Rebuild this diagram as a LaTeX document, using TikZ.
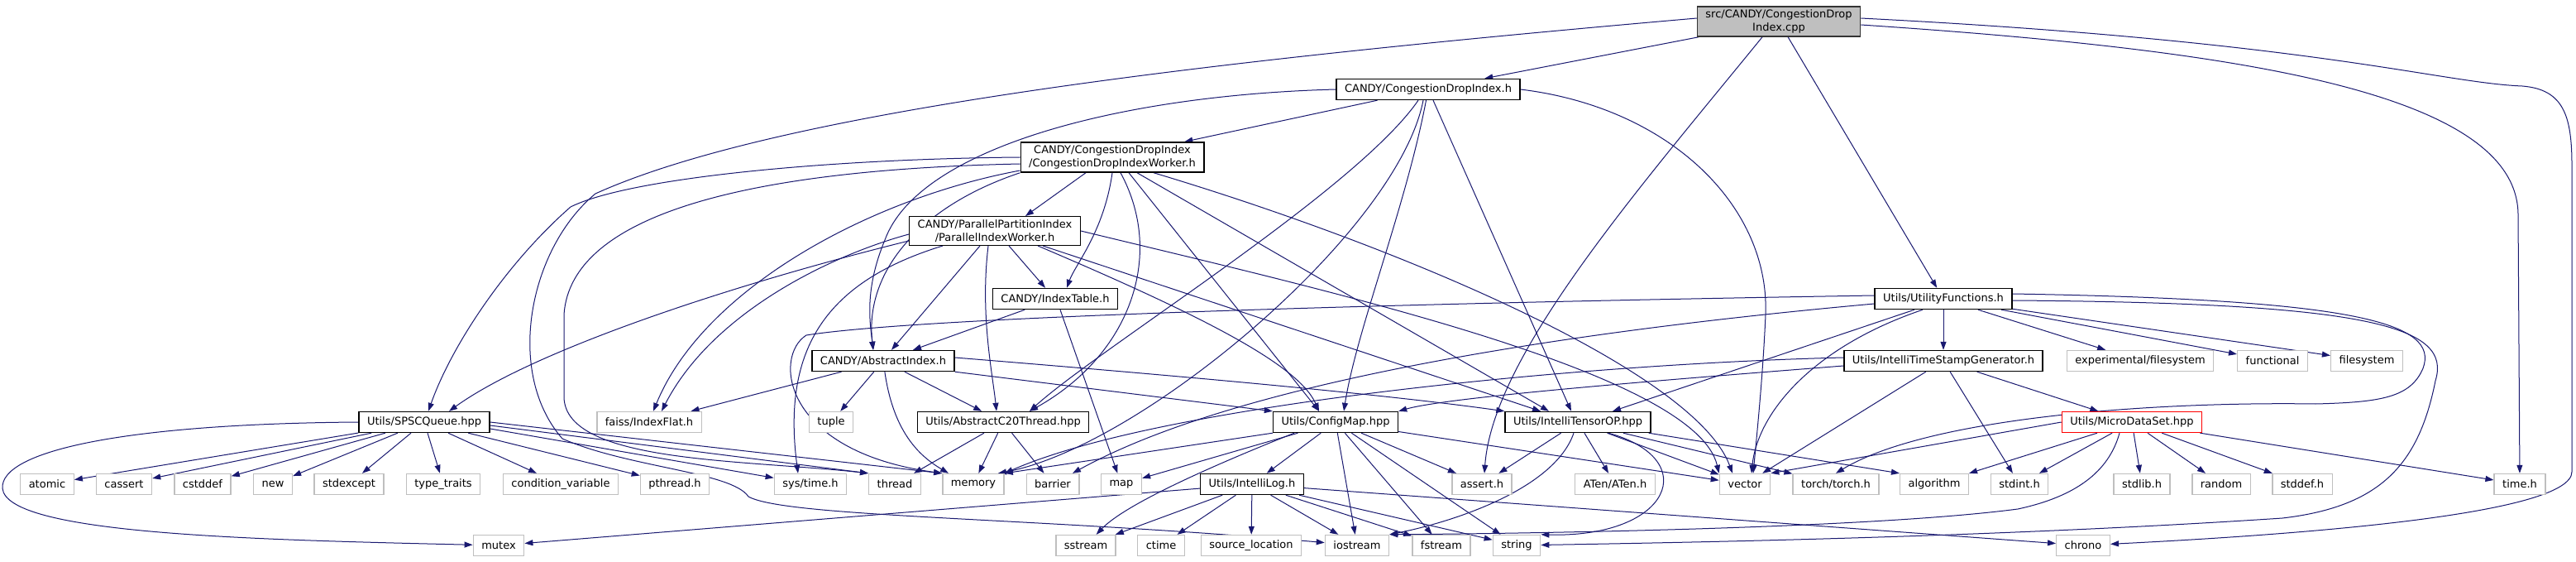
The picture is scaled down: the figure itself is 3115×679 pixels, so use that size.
\documentclass[tikz,border=0pt]{standalone}
\usepackage{fontspec}
\setmainfont{DejaVu Sans}
\usetikzlibrary{arrows.meta}
\definecolor{edgeblue}{HTML}{191970}
\definecolor{sysgray}{HTML}{BFBFBF}
\pgfdeclarelayer{edges}
\pgfsetlayers{edges,main}

\begin{document}
\begin{tikzpicture}[x=1pt,y=-1pt,
  every node/.style={font=\fontsize{13}{15.5}\selectfont,inner xsep=10pt,inner ysep=4pt,minimum height=25pt,align=center},
  hdr/.style={draw=black,line width=1.4pt,fill=white},
  sys/.style={draw=sysgray,line width=1.4pt,fill=white},
  root/.style={draw=black!80,line width=1.4pt,fill=sysgray},
  flagged/.style={draw=red,line width=1.4pt,fill=white},
  dep/.style={draw=edgeblue,line width=1pt,-{Triangle[length=10pt,width=7pt]}}]

\begin{pgfonlayer}{edges}
\fill[white] (0,0) rectangle (3115,679);
\end{pgfonlayer}
\useasboundingbox (0,0) rectangle (3115,679);

\node[root] (src) at (2151,26) {src/CANDY/CongestionDrop\\Index.cpp};

\node[hdr] (cdi) at (1727,108) {CANDY/CongestionDropIndex.h};
\node[hdr] (cdiw) at (1345,190) {CANDY/CongestionDropIndex\\/CongestionDropIndexWorker.h};
\node[hdr] (piw) at (1203,279) {CANDY/ParallelPartitionIndex\\/ParallelIndexWorker.h};

\node[hdr] (itab) at (1276,361) {CANDY/IndexTable.h};
\node[hdr] (util) at (2350,361) {Utils/UtilityFunctions.h};

\node[hdr] (absidx) at (1068,436) {CANDY/AbstractIndex.h};
\node[hdr] (itsg) at (2350,436) {Utils/IntelliTimeStampGenerator.h};
\node[sys] (expfs) at (2588,436) {experimental/filesystem};
\node[sys] (functional) at (2748,436) {functional};
\node[sys] (filesystem) at (2862,436) {filesystem};

\node[hdr] (spsc) at (513,510) {Utils/SPSCQueue.hpp};
\node[sys] (faiss) at (785,510) {faiss/IndexFlat.h};
\node[sys] (tuple) at (1005,510) {tuple};
\node[hdr] (ac20) at (1213,510) {Utils/AbstractC20Thread.hpp};
\node[hdr] (cfgmap) at (1615,510) {Utils/ConfigMap.hpp};
\node[hdr] (tensorop) at (1908,510) {Utils/IntelliTensorOP.hpp};
\node[flagged] (microds) at (2578,510) {Utils/MicroDataSet.hpp};

\node[sys] (atomic) at (57,585) {atomic};
\node[sys] (cassert) at (150,585) {cassert};
\node[sys] (cstddef) at (245,585) {cstddef};
\node[sys] (new) at (330,585) {new};
\node[sys] (stdexcept) at (422,585) {stdexcept};
\node[sys] (typetraits) at (536,585) {type\_traits};
\node[sys] (condvar) at (678,585) {condition\_variable};
\node[sys] (pthread) at (816,585) {pthread.h};
\node[sys] (systime) at (980,585) {sys/time.h};
\node[sys] (thread) at (1082,585) {thread};
\node[sys] (memory) at (1177,585) {memory};
\node[sys] (barrier) at (1273,585) {barrier};
\node[sys] (map) at (1356,585) {map};
\node[hdr] (ilog) at (1514,585) {Utils/IntelliLog.h};
\node[sys] (assert) at (1792,585) {assert.h};
\node[sys] (aten) at (1953,585) {ATen/ATen.h};
\node[sys] (vector) at (2110,585) {vector};
\node[sys] (torch) at (2220,585) {torch/torch.h};
\node[sys] (algorithm) at (2339,585) {algorithm};
\node[sys] (stdint) at (2442,585) {stdint.h};
\node[sys] (stdlib) at (2590,585) {stdlib.h};
\node[sys] (random) at (2686,585) {random};
\node[sys] (stddef) at (2784,585) {stddef.h};
\node[sys] (timeh) at (3047,585) {time.h};

\node[sys] (mutex) at (603,659) {mutex};
\node[sys] (sstream) at (1313,659) {sstream};
\node[sys] (ctime) at (1404,659) {ctime};
\node[sys] (srcloc) at (1513,659) {source\_location};
\node[sys] (iostream) at (1641,659) {iostream};
\node[sys] (fstream) at (1743,659) {fstream};
\node[sys] (string) at (1834,659) {string};
\node[sys] (chrono) at (2519,659) {chrono};

\begin{pgfonlayer}{edges}
\draw[dep] (src) -- (cdi);
\draw[dep] (src) -- (util);
\draw[dep] ([xshift=-20]src.south) .. controls (1980,230) and (1805,430) .. ([xshift=3]assert.north);
\draw[dep] ([yshift=-4]src.east) .. controls (2700,60) and (3045,110) .. (3045,260) -- (timeh);
\draw[dep] ([yshift=4]src.east) .. controls (2800,50) and (2950,100) .. (3050,104) .. controls (3100,108) and (3110,140) .. (3110,200) -- (3110,570) .. controls (3110,620) and (2800,645) .. (chrono);
\draw[dep] ([yshift=4]src.west) .. controls (1500,70) and (950,130) .. (720,234) .. controls (640,300) and (610,450) .. (680,530) .. controls (760,565) and (885,570) .. (905,600) .. controls (950,625) and (1250,625) .. (iostream);

\draw[dep] (cdi) -- (cdiw);
\draw[dep] (cdi.west) .. controls (1350,115) and (1110,180) .. (1070,290) .. controls (1045,350) and (1052,390) .. ([xshift=-12]absidx.north);
\draw[dep] ([xshift=-12]cdi.south) .. controls (1640,230) and (1330,420) .. ([xshift=32]ac20.north);
\draw[dep] ([xshift=-6]cdi.south) .. controls (1690,280) and (1380,540) .. ([xshift=30]memory.north);
\draw[dep] (cdi) .. controls (1700,250) and (1640,400) .. ([xshift=10]cfgmap.north);
\draw[dep] ([xshift=6]cdi.south) -- ([xshift=-8]tensorop.north);
\draw[dep] (cdi.east) .. controls (2020,130) and (2140,250) .. (2135,380) .. controls (2132,450) and (2125,520) .. ([xshift=10]vector.north);

\draw[dep] (cdiw.west) .. controls (1000,192) and (760,215) .. (690,250) .. controls (610,320) and (545,420) .. ([xshift=5]spsc.north);
\draw[dep] ([yshift=-8]cdiw.west) .. controls (900,205) and (690,260) .. (682,380) -- (682,480) .. controls (684,560) and (900,555) .. (thread.north west);
\draw[dep] ([yshift=-16]cdiw.west) .. controls (1050,240) and (850,350) .. ([xshift=5]faiss.north);
\draw[dep] (cdiw.south west) .. controls (1110,250) and (1045,330) .. ([xshift=-12]absidx.north);
\draw[dep] ([xshift=-32]cdiw.south) -- ([xshift=37]piw.north);
\draw[dep] (cdiw.south) .. controls (1335,280) and (1300,320) .. ([xshift=14]itab.north);
\draw[dep] ([xshift=10]cdiw.south) .. controls (1410,310) and (1365,430) .. ([xshift=32]ac20.north);
\draw[dep] ([xshift=20]cdiw.south) -- ([xshift=-20]cfgmap.north);
\draw[dep] ([xshift=30]cdiw.south) -- ([xshift=-35]tensorop.north);
\draw[dep] ([xshift=50]cdiw.south) .. controls (1700,300) and (2050,450) .. ([xshift=-15]vector.north);

\draw[dep] ([yshift=-4]piw.west) .. controls (1000,310) and (860,380) .. ([xshift=15]faiss.north);
\draw[dep] ([yshift=-12]piw.west) .. controls (900,340) and (650,420) .. ([xshift=30]spsc.north);
\draw[dep] ([xshift=-63]piw.south) .. controls (1000,340) and (945,420) .. ([xshift=-15]systime.north);
\draw[dep] ([xshift=-18]piw.south) -- ([xshift=10]absidx.north);
\draw[dep] ([xshift=-8]piw.south) .. controls (1185,380) and (1200,450) .. ([xshift=-8]ac20.north);
\draw[dep] ([xshift=17]piw.south) -- ([xshift=-12]itab.north);
\draw[dep] ([xshift=52]piw.south) .. controls (1450,380) and (1570,440) .. ([xshift=-20]cfgmap.north);
\draw[dep] ([xshift=58]piw.south) -- ([xshift=-45]tensorop.north);
\draw[dep] (piw.east) .. controls (1600,350) and (2050,450) .. (vector.north west);

\draw[dep] (itab) -- ([xshift=36]absidx.north);
\draw[dep] ([xshift=6]itab.south) -- (map);

\draw[dep] (absidx) -- (faiss);
\draw[dep] (absidx) -- (tuple);
\draw[dep] (absidx) .. controls (1080,520) and (1110,550) .. ([xshift=-30]memory.north);
\draw[dep] (absidx) -- (ac20);
\draw[dep] (absidx.south east) -- (cfgmap.north west);
\draw[dep] ([yshift=4]absidx.east) .. controls (1500,460) and (1700,480) .. (tensorop.north west);

\draw[dep] (ac20) -- (thread);
\draw[dep] (ac20) -- (memory);
\draw[dep] (ac20) -- (barrier);

\draw[dep] (spsc.west) .. controls (150,512) and (0,545) .. (3,590) .. controls (8,645) and (300,652) .. (mutex);
\draw[dep] (spsc) -- (atomic);
\draw[dep] (spsc) -- (cassert);
\draw[dep] (spsc) -- (cstddef);
\draw[dep] (spsc) -- (new);
\draw[dep] (spsc) -- (stdexcept);
\draw[dep] (spsc) -- (typetraits);
\draw[dep] (spsc) -- (condvar);
\draw[dep] (spsc) -- (pthread);
\draw[dep] ([yshift=-8]spsc.east) -- (systime);
\draw[dep] ([yshift=-4]spsc.east) -- (thread.north west);
\draw[dep] (spsc.east) -- (memory.north west);

\draw[dep] (cfgmap.south west) -- (memory.north east);
\draw[dep] (cfgmap) -- (map);
\draw[dep] ([xshift=-50]cfgmap.south) .. controls (1460,565) and (1360,610) .. (sstream);
\draw[dep] (cfgmap) -- (ilog);
\draw[dep] (cfgmap) -- (iostream);
\draw[dep] (cfgmap) -- (fstream);
\draw[dep] (cfgmap) -- (string);
\draw[dep] (cfgmap) -- (assert);
\draw[dep] (cfgmap) -- (vector);

\draw[dep] (tensorop) -- (assert);
\draw[dep] ([xshift=-5]tensorop.south) .. controls (1880,590) and (1760,630) .. (iostream.north east);
\draw[dep] (tensorop) -- (aten);
\draw[dep] (tensorop) -- (vector);
\draw[dep] ([xshift=37]tensorop.south) .. controls (2060,555) and (2020,650) .. (string.north east);
\draw[dep] (tensorop) -- (torch);
\draw[dep] ([xshift=-3]tensorop.south east) -- (algorithm.north west);

\draw[dep] (ilog) -- (mutex);
\draw[dep] (ilog) -- (sstream);
\draw[dep] (ilog) -- (ctime);
\draw[dep] (ilog) -- (srcloc);
\draw[dep] (ilog) -- (iostream);
\draw[dep] (ilog) -- (fstream);
\draw[dep] (ilog) -- (string);
\draw[dep] (ilog) -- (chrono);

\draw[dep] (util) -- (itsg);
\draw[dep] (util) -- (expfs);
\draw[dep] (util) -- (functional);
\draw[dep] (util) -- (filesystem);
\draw[dep] ([xshift=-35]util.south) -- ([xshift=42]tensorop.north);
\draw[dep] ([xshift=-25]util.south) .. controls (2190,420) and (2125,500) .. ([xshift=8]vector.north);
\draw[dep] ([yshift=4]util.west) .. controls (1600,368) and (1100,385) .. (975,405) .. controls (935,430) and (945,545) .. (memory.north west);
\draw[dep] ([yshift=-6]util.west) .. controls (1900,400) and (1500,460) .. (barrier);
\draw[dep] ([yshift=6]util.east) .. controls (2850,362) and (2950,390) .. (2930,445) .. controls (2915,480) and (2880,486) .. (2800,488) .. controls (2600,485) and (2330,505) .. (torch.north);
\draw[dep] ([yshift=-2]util.east) .. controls (2870,366) and (2965,395) .. (2945,460) .. controls (2925,560) and (2880,612) .. (2760,626) .. controls (2400,650) and (2000,656) .. (string);

\draw[dep] ([yshift=-6]itsg.west) .. controls (2000,460) and (1750,480) .. (cfgmap.north east);
\draw[dep] ([yshift=4]itsg.west) .. controls (1900,440) and (1400,490) .. (memory.north east);
\draw[dep] (itsg) -- (vector);
\draw[dep] (itsg) -- (stdint);
\draw[dep] (itsg) -- (microds);

\draw[dep] (microds.west) -- (vector.north east);
\draw[dep] (microds) -- (algorithm);
\draw[dep] (microds) -- (stdint);
\draw[dep] ([xshift=-15]microds.south) .. controls (2550,570) and (2510,600) .. (2440,615) .. controls (2250,640) and (1800,645) .. (iostream.north east);
\draw[dep] (microds) -- (stdlib);
\draw[dep] (microds) -- (random);
\draw[dep] (microds) -- (stddef);
\draw[dep] (microds) -- (timeh);
\end{pgfonlayer}

\end{tikzpicture}
\end{document}
